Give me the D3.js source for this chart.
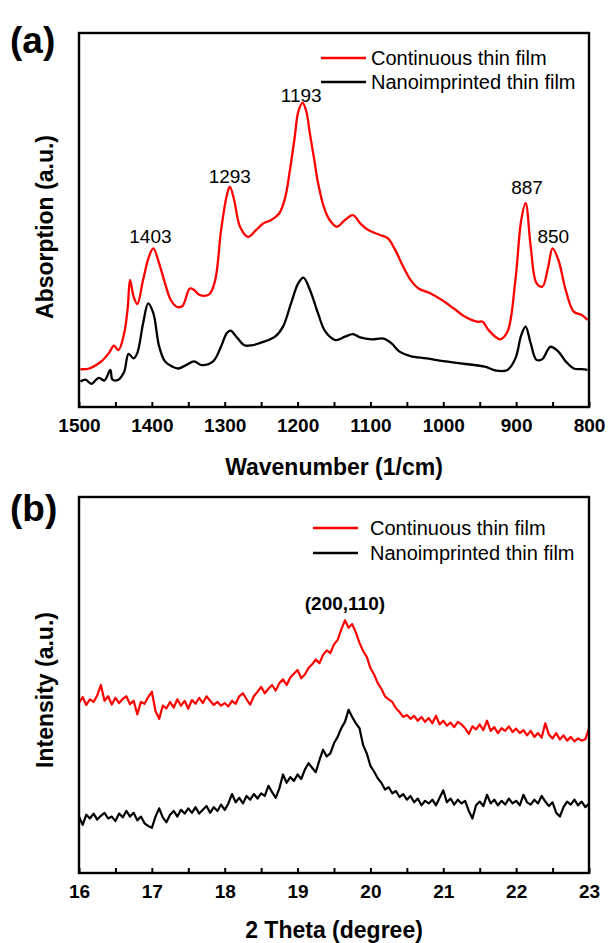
<!DOCTYPE html>
<html>
<head>
<meta charset="utf-8">
<script src="https://cdn.jsdelivr.net/npm/d3@7"></script>
<style>
  html, body { margin: 0; padding: 0; background: #fff; }
  svg { display: block; font-family: 'Liberation Sans', Arial, sans-serif; }
</style>
</head>
<body>
<div id="chart"></div>
<script>
// ---- (a) FTIR spectra: wavenumber (1/cm) vs absorption (a.u.) ----
const ftirRedWave = [1498, 1486, 1470, 1459, 1452, 1446, 1438, 1433, 1430, 1425, 1420, 1412, 1404, 1398,
  1390, 1382, 1374, 1366, 1358, 1348, 1342, 1334, 1321, 1313, 1305, 1297, 1293, 1287, 1279, 1268,
  1257, 1247, 1236, 1225, 1217, 1210, 1204, 1199, 1193, 1188, 1183, 1177, 1172, 1164, 1156, 1146,
  1135, 1124, 1114, 1103, 1087, 1076, 1066, 1055, 1045, 1034, 1018, 1002, 986, 970, 954, 946, 938,
  922, 912, 901, 893, 887, 880, 872, 864, 856, 850, 842, 832, 821, 810, 802];
const ftirRedAbs = [0.101, 0.103, 0.121, 0.144, 0.164, 0.152, 0.197, 0.268, 0.340, 0.295, 0.275, 0.340, 0.402, 0.424,
  0.384, 0.331, 0.286, 0.268, 0.270, 0.317, 0.313, 0.299, 0.302, 0.340, 0.473, 0.567, 0.589, 0.553, 0.482, 0.455,
  0.473, 0.491, 0.500, 0.518, 0.560, 0.640, 0.720, 0.790, 0.813, 0.790, 0.730, 0.660, 0.600, 0.535, 0.500, 0.482,
  0.500, 0.513, 0.491, 0.473, 0.460, 0.451, 0.420, 0.375, 0.340, 0.317, 0.304, 0.286, 0.264, 0.241, 0.228, 0.228, 0.206,
  0.181, 0.201, 0.340, 0.500, 0.545, 0.429, 0.331, 0.322, 0.375, 0.424, 0.393, 0.313, 0.255, 0.246, 0.233];

const ftirBlackWave = [1498, 1491, 1483, 1473, 1465, 1457, 1454, 1446, 1438, 1432, 1425, 1420, 1412, 1405,
  1398, 1390, 1382, 1372, 1364, 1353, 1342, 1332, 1316, 1305, 1297, 1292, 1284, 1273, 1263, 1247,
  1231, 1220, 1209, 1199, 1192, 1183, 1172, 1162, 1148, 1135, 1124, 1114, 1098, 1082, 1071, 1060,
  1045, 1023, 997, 970, 943, 927, 912, 901, 893, 887, 880, 872, 864, 853, 842, 832, 821, 810, 802];
const ftirBlackAbs = [0.068, 0.073, 0.062, 0.078, 0.071, 0.099, 0.073, 0.073, 0.094, 0.142, 0.130, 0.144, 0.224, 0.277,
  0.251, 0.162, 0.122, 0.108, 0.103, 0.112, 0.122, 0.112, 0.122, 0.162, 0.198, 0.204, 0.188, 0.165, 0.165, 0.174,
  0.188, 0.215, 0.277, 0.331, 0.346, 0.313, 0.251, 0.202, 0.179, 0.188, 0.195, 0.186, 0.181, 0.183, 0.170, 0.148,
  0.136, 0.130, 0.122, 0.115, 0.108, 0.097, 0.099, 0.130, 0.192, 0.215, 0.170, 0.126, 0.128, 0.161, 0.148, 0.122,
  0.103, 0.101, 0.099];

const ftirTicks = [1500, 1400, 1300, 1200, 1100, 1000, 900, 800];
const ftirMinorTicks = [1450, 1350, 1250, 1150, 1050, 950, 850];
// peak annotations: label, wavenumber of label centre, absorption at label baseline
const ftirPeaks = [
  { label: '1403', wave: 1402, abs: 0.439 },
  { label: '1293', wave: 1293, abs: 0.599 },
  { label: '1193', wave: 1195, abs: 0.816 },
  { label: '887', wave: 885, abs: 0.570 },
  { label: '850', wave: 849, abs: 0.439 }
];

// ---- (b) XRD patterns: 2 theta (degree) vs intensity (a.u.), scan 16-23 deg, step 0.05 ----
const xrdStart = 16, xrdStep = 0.05;
const xrdRed = [
  0.452, 0.468, 0.447, 0.462, 0.455, 0.472, 0.500, 0.458, 0.470, 0.448,
  0.466, 0.452, 0.463, 0.470, 0.449, 0.458, 0.422, 0.455, 0.450, 0.468,
  0.482, 0.430, 0.410, 0.445, 0.438, 0.455, 0.440, 0.462, 0.445, 0.458,
  0.437, 0.460, 0.450, 0.466, 0.452, 0.470, 0.458, 0.447, 0.455, 0.445,
  0.452, 0.443, 0.458, 0.450, 0.470, 0.478, 0.462, 0.448, 0.470, 0.482,
  0.495, 0.478, 0.490, 0.500, 0.485, 0.505, 0.515, 0.500, 0.520, 0.530,
  0.540, 0.518, 0.528, 0.545, 0.555, 0.568, 0.558, 0.580, 0.592, 0.585,
  0.608, 0.620, 0.648, 0.672, 0.652, 0.662, 0.640, 0.612, 0.590, 0.575,
  0.545, 0.528, 0.505, 0.490, 0.470, 0.462, 0.455, 0.438, 0.428, 0.415,
  0.420, 0.410, 0.418, 0.405, 0.415, 0.402, 0.412, 0.398, 0.418, 0.395,
  0.405, 0.392, 0.400, 0.388, 0.402, 0.395, 0.385, 0.370, 0.390, 0.382,
  0.395, 0.380, 0.405, 0.378, 0.388, 0.372, 0.385, 0.378, 0.390, 0.375,
  0.384, 0.372, 0.380, 0.366, 0.378, 0.362, 0.372, 0.360, 0.398, 0.368,
  0.358, 0.372, 0.355, 0.366, 0.352, 0.362, 0.350, 0.358, 0.352, 0.356,
  0.385
];
const xrdBlack = [
  0.150, 0.128, 0.155, 0.145, 0.158, 0.142, 0.152, 0.160, 0.145, 0.150,
  0.138, 0.158, 0.148, 0.165, 0.150, 0.160, 0.140, 0.150, 0.132, 0.125,
  0.120, 0.150, 0.172, 0.148, 0.135, 0.155, 0.165, 0.150, 0.168, 0.158,
  0.172, 0.160, 0.175, 0.158, 0.168, 0.178, 0.160, 0.175, 0.165, 0.182,
  0.168, 0.185, 0.210, 0.188, 0.200, 0.185, 0.205, 0.195, 0.210, 0.198,
  0.212, 0.205, 0.232, 0.215, 0.200, 0.225, 0.262, 0.240, 0.255, 0.245,
  0.262, 0.250, 0.275, 0.292, 0.280, 0.268, 0.300, 0.328, 0.310, 0.318,
  0.345, 0.362, 0.385, 0.402, 0.434, 0.415, 0.398, 0.385, 0.340, 0.318,
  0.285, 0.270, 0.252, 0.240, 0.222, 0.228, 0.212, 0.218, 0.202, 0.210,
  0.195, 0.205, 0.188, 0.198, 0.180, 0.192, 0.185, 0.195, 0.180, 0.200,
  0.220, 0.188, 0.198, 0.182, 0.195, 0.185, 0.192, 0.165, 0.145, 0.180,
  0.190, 0.178, 0.208, 0.185, 0.195, 0.180, 0.192, 0.182, 0.198, 0.185,
  0.192, 0.180, 0.208, 0.188, 0.182, 0.195, 0.185, 0.205, 0.190, 0.178,
  0.188, 0.160, 0.150, 0.175, 0.190, 0.182, 0.195, 0.180, 0.190, 0.175,
  0.185
];
const xrdTicks = [16, 17, 18, 19, 20, 21, 22, 23];
const xrdMinorTicks = [16.5, 17.5, 18.5, 19.5, 20.5, 21.5, 22.5];

const seriesNames = ['Continuous thin film', 'Nanoimprinted thin film'];
const seriesColors = ['#ff0000', '#000000'];

// ---- layout ----
const W = 608, H = 943;
const left = 79, right = 589;

const svg = d3.select('#chart').append('svg')
  .attr('width', W)
  .attr('height', H);

function drawPanel(p) {
  const g = svg.append('g');

  const x = d3.scaleLinear().domain(p.xDomain).range([left, right]);
  const y = d3.scaleLinear().domain([0, 1]).range([p.bottom, p.top]);

  // inward ticks, major with labels, minor without
  const axis = g.append('g')
    .attr('transform', `translate(0,${p.bottom})`)
    .call(d3.axisBottom(x).tickValues(p.ticks).tickFormat(p.format)
      .tickSizeInner(-5).tickSizeOuter(0));
  axis.select('.domain').remove();
  axis.selectAll('line').attr('stroke', '#000').attr('stroke-width', 2);
  axis.selectAll('text')
    .attr('y', 25).attr('dy', 0)
    .attr('font-family', "'Liberation Sans', Arial, sans-serif")
    .attr('font-size', 19)
    .attr('font-weight', 'bold')
    .attr('fill', '#000');

  const minor = g.append('g')
    .attr('transform', `translate(0,${p.bottom})`)
    .call(d3.axisBottom(x).tickValues(p.minorTicks).tickFormat('')
      .tickSizeInner(-5).tickSizeOuter(0));
  minor.select('.domain').remove();
  minor.selectAll('line').attr('stroke', '#000').attr('stroke-width', 2);

  // series
  p.series.forEach((s, i) => {
    const line = d3.line()
      .x(d => x(d[0]))
      .y(d => y(d[1]))
      .curve(p.curve);
    g.append('path')
      .datum(s)
      .attr('d', line)
      .attr('fill', 'none')
      .attr('stroke', seriesColors[i])
      .attr('stroke-width', p.lineWidth)
      .attr('stroke-linejoin', 'round');
  });

  // frame
  g.append('rect')
    .attr('x', left).attr('y', p.top)
    .attr('width', right - left).attr('height', p.bottom - p.top)
    .attr('fill', 'none')
    .attr('stroke', '#000')
    .attr('stroke-width', 2.4);

  // legend
  seriesNames.forEach((name, i) => {
    const ly = p.legendY + i * p.legendGap;
    g.append('line')
      .attr('x1', p.legendX1).attr('x2', p.legendX2)
      .attr('y1', ly).attr('y2', ly)
      .attr('stroke', seriesColors[i])
      .attr('stroke-width', 2.5);
    g.append('text')
      .attr('x', p.legendText).attr('y', ly + 7)
      .attr('font-size', 20)
      .attr('fill', '#000')
      .text(name);
  });

  // axis titles
  g.append('text')
    .attr('x', (left + right) / 2).attr('y', p.xTitleY)
    .attr('text-anchor', 'middle')
    .attr('font-size', 23)
    .attr('font-weight', 'bold')
    .text(p.xTitle);

  g.append('text')
    .attr('transform', `translate(53,${p.yTitleMid}) rotate(-90)`)
    .attr('text-anchor', 'middle')
    .attr('font-size', 23)
    .attr('font-weight', 'bold')
    .text(p.yTitle);

  // panel tag
  g.append('text')
    .attr('x', 10).attr('y', p.tagY)
    .attr('font-size', 37)
    .attr('font-weight', 'bold')
    .text(p.tag);

  return { g, x, y };
}

// (a)
const pa = drawPanel({
  top: 33, bottom: 407,
  xDomain: [1500, 800],
  ticks: ftirTicks, minorTicks: ftirMinorTicks,
  format: d3.format('d'),
  series: [
    ftirRedWave.map((w, i) => [w, ftirRedAbs[i]]),
    ftirBlackWave.map((w, i) => [w, ftirBlackAbs[i]])
  ],
  curve: d3.curveCatmullRom.alpha(0.5),
  lineWidth: 2.3,
  legendY: 58, legendGap: 24, legendX1: 321, legendX2: 366, legendText: 371,
  xTitle: 'Wavenumber (1/cm)', xTitleY: 475,
  yTitle: 'Absorption (a.u.)', yTitleMid: 227,
  tag: '(a)', tagY: 53
});

pa.g.selectAll('.peak')
  .data(ftirPeaks)
  .join('text')
  .attr('class', 'peak')
  .attr('x', d => pa.x(d.wave))
  .attr('y', d => pa.y(d.abs))
  .attr('text-anchor', 'middle')
  .attr('font-size', 19)
  .attr('fill', '#000')
  .text(d => d.label);

// (b)
const pb = drawPanel({
  top: 497, bottom: 873,
  xDomain: [16, 23],
  ticks: xrdTicks, minorTicks: xrdMinorTicks,
  format: d3.format('d'),
  series: [
    xrdRed.map((v, i) => [xrdStart + i * xrdStep, v]),
    xrdBlack.map((v, i) => [xrdStart + i * xrdStep, v])
  ],
  curve: d3.curveLinear,
  lineWidth: 2.2,
  legendY: 528, legendGap: 25, legendX1: 313, legendX2: 358, legendText: 370,
  xTitle: '2 Theta (degree)', xTitleY: 938,
  yTitle: 'Intensity (a.u.)', yTitleMid: 690,
  tag: '(b)', tagY: 521
});

pb.g.append('text')
  .attr('x', pb.x(19.65))
  .attr('y', 610)
  .attr('text-anchor', 'middle')
  .attr('font-size', 19)
  .attr('font-weight', 'bold')
  .text('(200,110)');
</script>
</body>
</html>
